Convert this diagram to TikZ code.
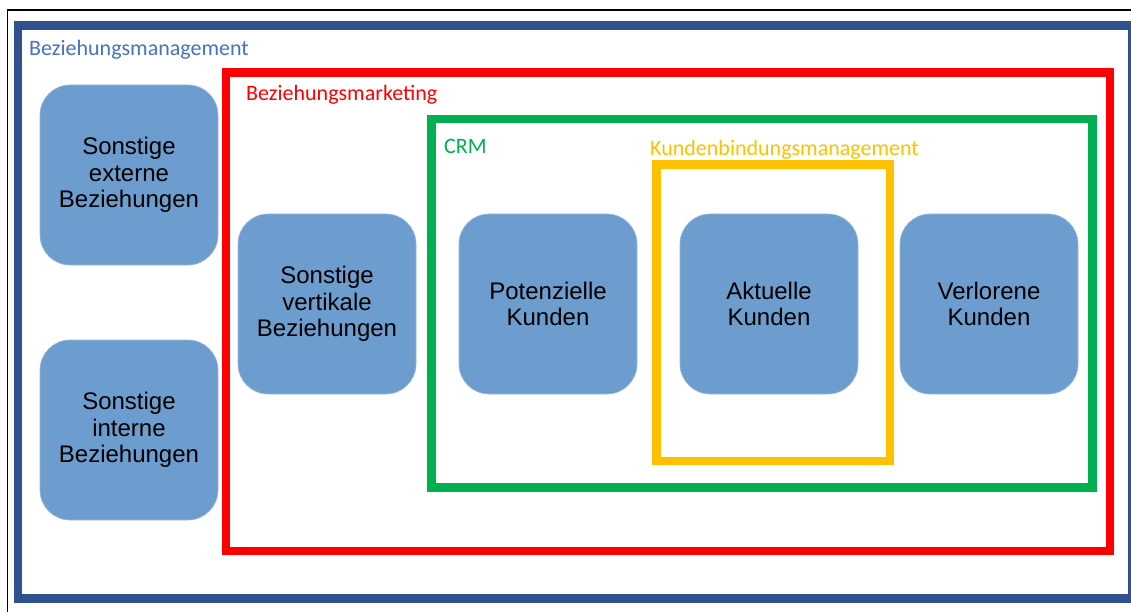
\documentclass[tikz,border=0pt]{standalone}
\usepackage{fontspec}
\setmainfont{Liberation Sans}
\newfontfamily\calibrifont{Carlito}
\usetikzlibrary{positioning}

\definecolor{boxblue}{RGB}{108,157,206}
\definecolor{frameblue}{RGB}{47,82,143}
\definecolor{labelblue}{RGB}{68,114,196}
\definecolor{crmgreen}{RGB}{0,176,80}
\definecolor{kbmyellow}{RGB}{255,192,0}

\tikzset{
	groupbox/.style={fill=boxblue, draw=boxblue!70!white, line width=0.6pt, rounded corners=30pt,
		minimum width=178pt, minimum height=180pt, align=center, font=\fontsize{24}{26.5}\selectfont},
	framelabel/.style={anchor=west, inner sep=0pt, font=\calibrifont\fontsize{22}{25}\selectfont},
	frameline/.style={line width=8.8pt}
}

\begin{document}
\begin{tikzpicture}[x=1pt, y=-1pt]
		\useasboundingbox (0, 0) rectangle (1131, 612);
		\fill[white] (0, 0) rectangle (1131, 612);
		% screenshot border
		\draw[line width=1.6pt] (7.5, 612) -- (7.5, 10) -- (1131, 10);
		% frames
		\draw[frameline, frameblue] (18, 25.5) rectangle (1132.5, 598.5);
		\draw[frameline, red] (226, 72.5) rectangle (1110, 551);
		\draw[frameline, crmgreen] (431.5, 119) rectangle (1092.5, 487.5);
		\draw[frameline, kbmyellow] (656.5, 164.5) rectangle (890, 461);
		% frame labels
		\node[framelabel, text=labelblue] (bm) at (29, 50) {Beziehungsmanagement};
		\node[framelabel, text=red] (bmkt) at (246, 94.5) {Beziehungsmarketing};
		\node[framelabel, text=crmgreen] (crm) at (444, 146.5) {CRM};
		\node[framelabel, text=kbmyellow] (kbm) at (650, 149.5) {Kundenbindungsmanagement};
		% boxes
		\node[groupbox] (extern) at (129, 175) {Sonstige\\externe\\Beziehungen};
		\node[groupbox] (intern) at (129, 430) {Sonstige\\interne\\Beziehungen};
		\node[groupbox] (vertikal) at (327, 304) {Sonstige\\vertikale\\Beziehungen};
		\node[groupbox] (potenziell) at (548, 304) {Potenzielle\\Kunden};
		\node[groupbox] (aktuell) at (769, 304) {Aktuelle\\Kunden};
		\node[groupbox] (verloren) at (989, 304) {Verlorene\\Kunden};
	\end{tikzpicture}
\end{document}
